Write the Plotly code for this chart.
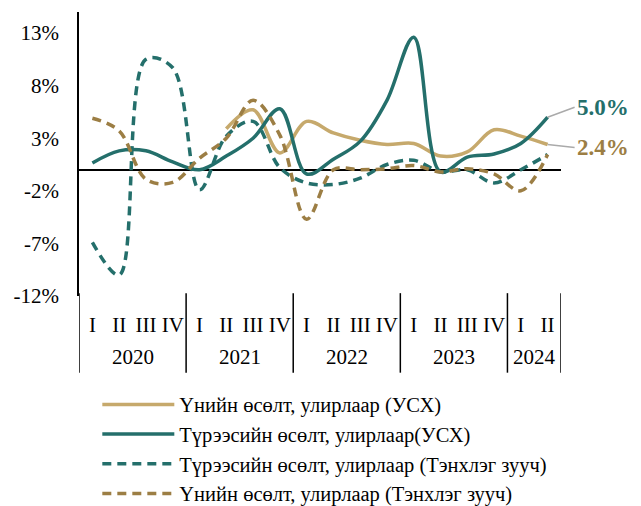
import plotly.graph_objects as go

years = ["2020"] * 4 + ["2021"] * 4 + ["2022"] * 4 + ["2023"] * 4 + ["2024"] * 2
quarters = ["I", "II", "III", "IV"] * 4 + ["I", "II"]

price_usx = [None, None, None, None, None, 3.9, 5.7, 1.6, 4.6, 3.5, 2.8, 2.4, 2.5, 1.3, 1.7, 3.8, 3.2, 2.4]
rent_usx = [0.65, 1.8, 1.8, 0.75, 0.0, 1.3, 3.0, 5.8, -0.4, 1.0, 2.7, 6.6, 12.6, -0.2, 1.2, 1.5, 2.5, 5.0]
rent_broker = [-6.9, -10.0, 10.5, 9.7, -1.9, 3.2, 4.6, 0.2, -1.25, -1.4, -0.8, 0.5, 0.9, -0.2, 0.0, -1.25, 0.0, 1.45]
price_broker = [4.9, 3.7, -0.9, -1.2, 1.1, 3.0, 6.6, 3.3, -4.7, 0.0, 0.0, 0.1, 0.4, -0.2, 0.1, -0.4, -2.0, 1.45]

names = [
    "Үнийн өсөлт, улирлаар (УСХ)",
    "Түрээсийн өсөлт, улирлаар(УСХ)",
    "Түрээсийн өсөлт, улирлаар (Тэнхлэг зууч)",
    "Үнийн өсөлт, улирлаар (Тэнхлэг зууч)",
]
ytick_vals = [-12, -7, -2, 3, 8, 13]
ytick_text = ["-12%", "-7%", "-2%", "3%", "8%", "13%"]

GOLD_L = "#C6A96C"
TEAL = "#246F6B"
GOLD_D = "#9C7E44"
FONT = "Liberation Serif"

xs = list(range(len(quarters)))
fig = go.Figure()
series = [
    (price_usx, GOLD_L, "solid"),
    (rent_usx, TEAL, "solid"),
    (rent_broker, TEAL, "9px,6px"),
    (price_broker, GOLD_D, "9px,6px"),
]
for (vals, col, dash), nm in zip(series, names):
    fig.add_trace(go.Scatter(
        x=xs, y=vals, name=nm, mode="lines",
        line=dict(color=col, width=3.5, dash=dash, shape="spline", smoothing=1),
        connectgaps=False,
    ))

# year group labels and dividers derived from the category lists
groups = []
for i, yv in enumerate(years):
    if not groups or groups[-1][0] != yv:
        groups.append([yv, i, i])
    else:
        groups[-1][2] = i
bounds = [groups[0][1] - 0.5] + [g[2] + 0.5 for g in groups]
for yv, a, b in groups:
    fig.add_annotation(x=(a + b) / 2, y=-0.215, xref="x", yref="paper", text=yv,
                       showarrow=False, yanchor="middle",
                       font=dict(family=FONT, size=21, color="black"))
for bx in bounds:
    fig.add_shape(type="line", xref="x", yref="paper", x0=bx, x1=bx, y0=0.01, y1=-0.27,
                  line=dict(color="black", width=1.5))

fig.add_annotation(x=xs[-1], y=rent_usx[-1], text="<b>%.1f%%</b>" % rent_usx[-1],
                   showarrow=True, arrowhead=0, arrowcolor="#AAAAAA", arrowwidth=1.5,
                   ax=27, ay=-10, xanchor="left", yanchor="middle",
                   font=dict(family=FONT, size=23, color=TEAL))
fig.add_annotation(x=xs[-1], y=price_usx[-1], text="<b>%.1f%%</b>" % price_usx[-1],
                   showarrow=True, arrowhead=0, arrowcolor="#AAAAAA", arrowwidth=1.5,
                   ax=27, ay=3, xanchor="left", yanchor="middle",
                   font=dict(family=FONT, size=23, color=GOLD_D))

fig.update_layout(
    width=633, height=498,
    margin=dict(l=71, r=80, t=4, b=210, autoexpand=False),
    paper_bgcolor="white", plot_bgcolor="white",
    font=dict(family=FONT, size=21, color="black"),
    showlegend=True,
    legend=dict(x=0.038, y=-0.312, xanchor="left", yanchor="top",
                font=dict(family=FONT, size=20.5), itemwidth=72,
                bgcolor="rgba(0,0,0,0)"),
)
fig.update_xaxes(
    range=[-0.5, 17.5], automargin=False,
    tickvals=xs, ticktext=quarters,
    showline=False, showgrid=False, zeroline=False,
    ticks="outside", ticklen=10, tickcolor="rgba(0,0,0,0)", tickangle=0,
    tickfont=dict(family=FONT, size=21),
)
fig.update_yaxes(
    range=[-12, 15], tickvals=ytick_vals, ticktext=ytick_text, automargin=False,
    showline=True, linecolor="black", linewidth=1.5,
    showgrid=False, zeroline=True, zerolinecolor="black", zerolinewidth=1.5,
    ticks="outside", ticklen=14, tickcolor="rgba(0,0,0,0)",
    tickfont=dict(family=FONT, size=21),
)
fig.write_html("out.html")
